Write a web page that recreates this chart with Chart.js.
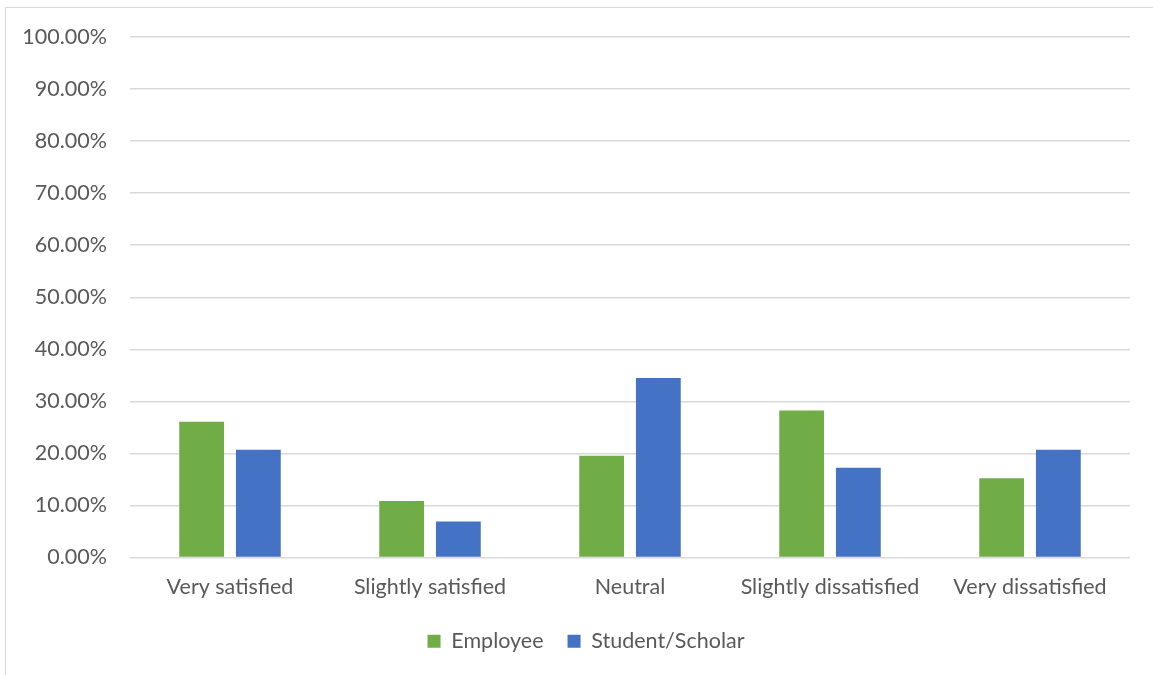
<!DOCTYPE html>
<html>
<head>
<meta charset="utf-8">
<script src="https://cdn.jsdelivr.net/npm/chart.js@4/dist/chart.umd.min.js"></script>
<style>
  html, body { margin: 0; padding: 0; background: #fff; overflow: hidden; }
  .frame {
    position: absolute; left: 5px; top: 7px; width: 1200px; height: 720px;
    border: 1px solid #d9d9d9; box-sizing: border-box;
  }
  .wrap { position: absolute; left: 0; top: 0; width: 1153px; height: 675px; }
</style>
</head>
<body>
<div class="frame"></div>
<div class="wrap"><canvas id="satisfactionChart" width="1153" height="675"></canvas></div>
<script>
// ------------------------------
// Survey data: satisfaction by respondent type
// ------------------------------
const categories = ['Very satisfied', 'Slightly satisfied', 'Neutral', 'Slightly dissatisfied', 'Very dissatisfied'];
const employeeValues = [26.09, 10.87, 19.57, 28.26, 15.22];
const studentValues = [20.69, 6.90, 34.48, 17.24, 20.69];
const seriesNames = ['Employee', 'Student/Scholar'];
const seriesColors = ['#70ad47', '#4472c4'];

const FONT = 'Lato, "Open Sans", sans-serif';
const FONT_SIZE = 21.5;
const TEXT = '#595959';
const GRID = '#d9d9d9';

// Nudge the legend right so it sits centred under the whole frame
const legendShift = {
  id: 'legendShift',
  afterLayout(chart) {
    if (!chart.legend) return;
    chart.legend.left += 21;
    chart.legend.right += 21;
  }
};

const ctx = document.getElementById('satisfactionChart');
new Chart(ctx, {
  type: 'bar',
  data: {
    labels: categories,
    datasets: [
      { label: seriesNames[0], data: employeeValues, backgroundColor: seriesColors[0] },
      { label: seriesNames[1], data: studentValues, backgroundColor: seriesColors[1] }
    ]
  },
  options: {
    responsive: false,
    animation: false,
    datasets: {
      bar: { categoryPercentage: 0.567, barPercentage: 0.79, borderWidth: 0 }
    },
    layout: { padding: { left: 0, right: 23, top: 37, bottom: 13 } },
    plugins: {
      tooltip: { enabled: false },
      legend: {
        position: 'bottom',
        labels: {
          color: TEXT,
          font: { family: FONT, size: FONT_SIZE },
          boxWidth: 13,
          boxHeight: 13,
          padding: 24,
          useBorderRadius: false
        }
      }
    },
    scales: {
      x: {
        grid: { display: false, drawTicks: false },
        border: { display: false },
        ticks: { color: TEXT, font: { family: FONT, size: FONT_SIZE }, padding: 17, maxRotation: 0 },
        afterFit: (s) => { s.height = 49; }
      },
      y: {
        min: 0,
        max: 100,
        ticks: {
          stepSize: 10,
          color: TEXT,
          font: { family: FONT, size: FONT_SIZE },
          padding: 23,
          callback: (v) => v.toFixed(2) + '%'
        },
        grid: { color: GRID, lineWidth: 1.5, drawTicks: false },
        border: { display: false },
        afterFit: (s) => { s.width = 130; }
      }
    }
  },
  plugins: [legendShift]
});
</script>
</body>
</html>
